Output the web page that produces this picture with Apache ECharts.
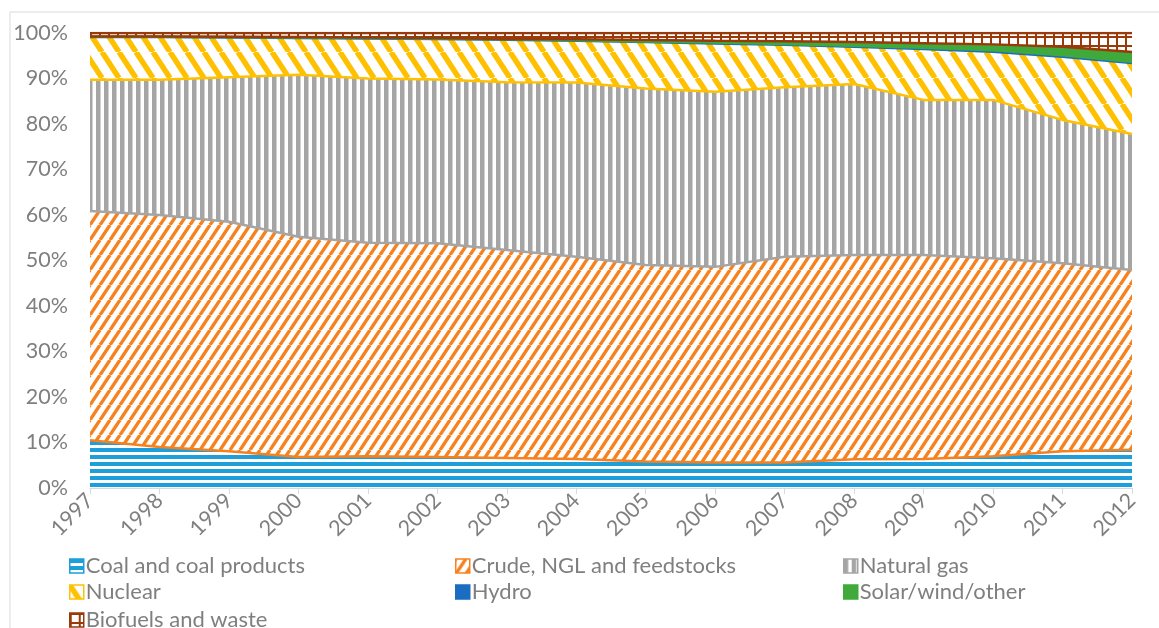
<!DOCTYPE html>
<html>
<head>
<meta charset="utf-8">
<script src="https://cdn.jsdelivr.net/npm/echarts@6/dist/echarts.min.js"></script>
<style>
html,body{margin:0;padding:0;background:#fff;}
#c{width:1159px;height:628px;}
</style>
</head>
<body>
<div id="c"></div>
<script>
const years = ['1997','1998','1999','2000','2001','2002','2003','2004','2005','2006','2007','2008','2009','2010','2011','2012'];
const coal    = [10.5, 9.0, 8.1, 6.8, 7.0, 6.8, 6.6, 6.4, 5.8, 5.6, 5.6, 6.3, 6.4, 7.0, 8.1, 8.4];
const crude   = [50.4, 51.0, 50.4, 48.4, 46.9, 47.0, 45.7, 44.4, 43.2, 43.0, 45.2, 44.9, 44.8, 43.5, 41.3, 39.5];
const gas     = [28.8, 29.7, 31.8, 35.6, 36.1, 36.0, 36.9, 38.3, 38.8, 38.5, 37.3, 37.6, 34.1, 34.8, 31.5, 29.9];
const nuclear = [9.4, 9.4, 8.7, 8.1, 8.8, 8.9, 9.3, 9.2, 10.2, 10.6, 9.3, 8.2, 11.2, 10.6, 13.9, 15.6];
const hydro   = [0.1, 0.1, 0.1, 0.1, 0.1, 0.1, 0.1, 0.1, 0.15, 0.2, 0.2, 0.2, 0.25, 0.3, 0.3, 0.3];
const solar   = [0.05, 0.05, 0.1, 0.1, 0.1, 0.1, 0.1, 0.2, 0.3, 0.4, 0.6, 0.8, 1.0, 1.3, 1.9, 2.1];
const biofuel = [0.75, 0.75, 0.8, 0.9, 1.0, 1.1, 1.3, 1.4, 1.55, 1.7, 1.8, 2.0, 2.25, 2.5, 3.0, 4.2];
const seriesNames = ['Coal and coal products','Crude, NGL and feedstocks','Natural gas','Nuclear','Hydro','Solar/wind/other','Biofuels and waste'];
const yTicks = [0,10,20,30,40,50,60,70,80,90,100];

const C = {
  coal:'#1E9FDC', crude:'#F5821F', gas:'#A5A5A5', nuclear:'#FFC000',
  hydro:'#1A6DC1', solar:'#3FAA3B', bio:'#9A3A0A'
};

function tile(w,h,draw){
  const cv=document.createElement('canvas'); cv.width=w; cv.height=h;
  const g=cv.getContext('2d'); g.fillStyle='#fff'; g.fillRect(0,0,w,h);
  draw(g,w,h); return {image:cv, repeat:'repeat'};
}
function hStripes(col){return tile(8,7,(g,w,h)=>{g.fillStyle=col; g.fillRect(0,0,w,4);});}
function vStripes(col){return tile(8,8,(g,w,h)=>{g.fillStyle=col; g.fillRect(0,0,4,h); g.fillStyle='#D2D2D2'; g.fillRect(4,0,1,h);});}
function diagUp(col,w,h,t){return tile(w,h,(g)=>{g.strokeStyle=col; g.lineWidth=t;
  for(let k=-1;k<=1;k++){g.beginPath(); g.moveTo(k*w,h); g.lineTo(k*w+w,0); g.stroke();}});}
function diagDown(col,w,h,t){return tile(w,h,(g)=>{g.strokeStyle=col; g.lineWidth=t;
  for(let k=-1;k<=1;k++){g.beginPath(); g.moveTo(k*w,0); g.lineTo(k*w+w,h); g.stroke();}});}
function grid(col){return tile(9,9,(g,w,h)=>{g.fillStyle=col; g.fillRect(0,0,2,h); g.fillRect(0,0,w,2);});}

const fills = [
  hStripes(C.coal),
  diagUp(C.crude,10,15,3.4),
  vStripes(C.gas),
  diagDown(C.nuclear,17,26,5.5),
  C.hydro,
  C.solar,
  grid(C.bio)
];
const lineCols=[C.coal,C.crude,C.gas,C.nuclear,C.hydro,C.solar,C.bio];
const datas=[coal,crude,gas,nuclear,hydro,solar,biofuel];

const FONT='Lato';
// boundary line between two stacked areas takes the colour of the upper area's outline
const series = seriesNames.map((n,i)=>({
  name:n, type:'line', stack:'total', data:datas[i], showSymbol:false, symbol:'none',
  lineStyle:{color:lineCols[Math.min(i+1,6)], width:2.5},
  itemStyle:{color:fills[i], borderColor:lineCols[i], borderWidth:1.5},
  areaStyle:{color:fills[i], opacity:1},
  emphasis:{disabled:true}, animation:false
}));

// legend layout: [column x, row]
const legPos = [[64,0],[450,0],[838,0],[64,1],[450,1],[838,1],[64,2]];
const rowTop = [550, 576, 604];
const legends = seriesNames.map((n,i)=>({
  left:legPos[i][0], top:rowTop[legPos[i][1]], orient:'horizontal', itemWidth:14, itemHeight:14, icon:'rect',
  itemGap:0, textStyle:{fontFamily:FONT, fontSize:22, color:'#7F7F7F', padding:[0,0,0,-3]},
  data:[{name:n, itemStyle:{color:fills[i], borderColor:lineCols[i], borderWidth:1.5}}]
}));

const chart = echarts.init(document.getElementById('c'), null, {renderer:'canvas'});
chart.setOption({
  animation:false,
  backgroundColor:'#fff',
  graphic:[{type:'rect', shape:{x:10,y:12,width:1170,height:700}, style:{fill:'none', stroke:'#D9D9D9', lineWidth:1}, silent:true}],
  grid:{left:90, right:27, top:33, bottom:140},
  legend:legends,
  xAxis:{type:'category', data:years, boundaryGap:false,
    axisLine:{lineStyle:{color:'#D9D9D9', width:1}},
    axisTick:{show:true, alignWithLabel:true, length:6, lineStyle:{color:'#D9D9D9'}},
    axisLabel:{rotate:45, fontFamily:FONT, fontSize:21.5, color:'#7F7F7F', margin:9}},
  yAxis:{type:'value', min:0, max:100, interval:10,
    axisLine:{show:false}, axisTick:{show:false}, splitLine:{show:false},
    axisLabel:{formatter:v=>v+'%', fontFamily:FONT, fontSize:21.5, color:'#7F7F7F', margin:22}},
  series:series
});
</script>
</body>
</html>
